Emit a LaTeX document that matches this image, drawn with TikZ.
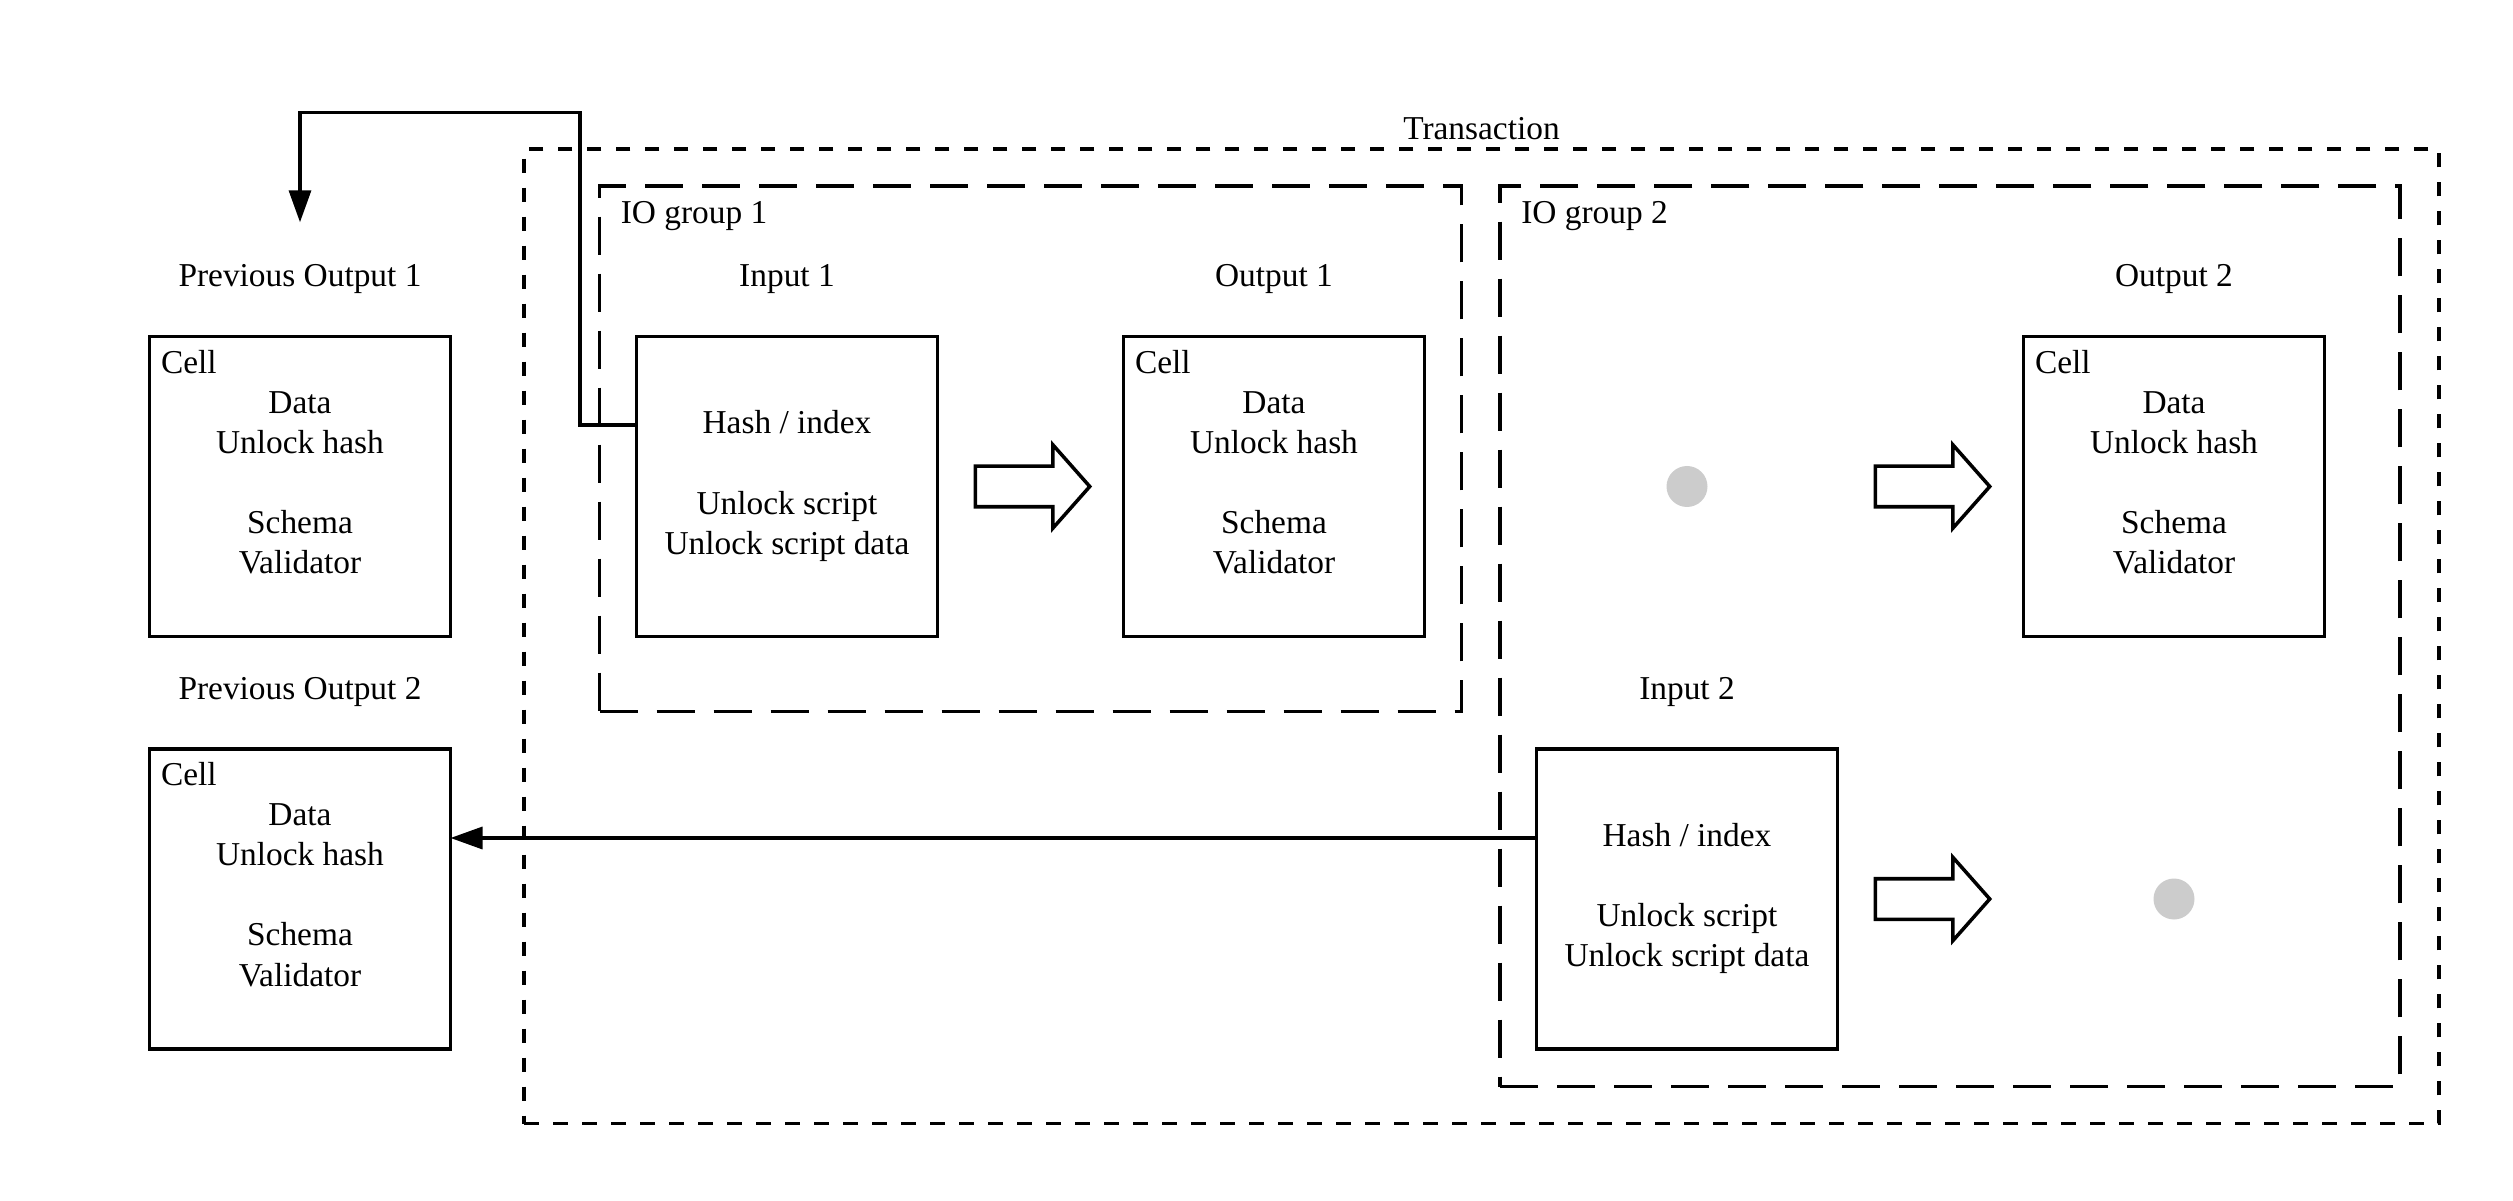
\documentclass[tikz,border=0pt]{standalone}
\usepackage{fontspec}
\setmainfont{Liberation Serif}
\usetikzlibrary{arrows.meta,shapes.arrows,positioning,backgrounds,fit,calc}

\begin{document}
\begin{tikzpicture}[node distance = 4.87cm, font=\fontsize{9.5}{11.4}\selectfont,
    cellbox/.style={rectangle, draw=black, line width=1pt, minimum width=3.01cm, minimum height=3cm, align=center,
                    text depth=2.3pt, outer sep=0pt},
    tag/.style={inner sep=0pt, anchor=base west},
    caption/.style={node distance=2.07cm},
    hollow/.style={single arrow, draw=black, fill=white, line width=1pt, minimum height=1.145cm, minimum width=0.8cm,
                   single arrow head extend=0.215cm, single arrow tip angle=97, inner xsep=0pt, inner ysep=0.185cm,
                   anchor=tail},
    spot/.style={circle, fill=black!20, minimum size=0.41cm, inner sep=0pt},
    link/.style={line width=0.95pt, -{Triangle[length=0.32cm, width=0.22cm]}},
    iogroup/.style={draw=black, line width=1.05pt, dash pattern=on 0.38cm off 0.19cm, inner sep=0pt, outer sep=0pt},
    txbox/.style={draw=black, line width=0.95pt, dash pattern=on 0.145cm off 0.145cm, inner sep=0pt, outer sep=0pt}]
  \useasboundingbox (0,0) rectangle (25.13,12);

  \node[cellbox] at (3, 7.135) (prev1) {Data\\Unlock hash\\[11.4pt]Schema\\Validator};
  \node[cellbox, below of=prev1, node distance=4.125cm] (prev2) {Data\\Unlock hash\\[11.4pt]Schema\\Validator};
  \node[cellbox, right of=prev1] (in1) {Hash / index\\[11.4pt]Unlock script\\Unlock script data};
  \node[cellbox, right of=in1] (out1) {Data\\Unlock hash\\[11.4pt]Schema\\Validator};

  \node[spot] at (16.87, 7.135) (dot1) {};
  \node[cellbox, right of=dot1] (out2) {Data\\Unlock hash\\[11.4pt]Schema\\Validator};
  \node[cellbox, below of=dot1, node distance=4.125cm] (in2) {Hash / index\\[11.4pt]Unlock script\\Unlock script data};
  \node[spot, below of=out2, node distance=4.125cm] (dot2) {};

  % titles above the boxes
  \node[caption, above of=prev1] (prev1label) {Previous Output 1};
  \node[caption, above of=prev2] (prev2label) {Previous Output 2};
  \node[caption, above of=in1] (in1label) {Input 1};
  \node[caption, above of=out1] (out1label) {Output 1};
  \node[caption, above of=out2] (out2label) {Output 2};
  \node[caption, above of=in2] (in2label) {Input 2};

  \node[tag] at ($(prev1.north west)+(0.108,-0.37)$) (prev1cell) {Cell};
  \node[tag] at ($(prev2.north west)+(0.108,-0.37)$) (prev2cell) {Cell};
  \node[tag] at ($(out1.north west)+(0.108,-0.37)$) (out1cell) {Cell};
  \node[tag] at ($(out2.north west)+(0.108,-0.37)$) (out2cell) {Cell};

  \node[hollow] at ($(in1.east)+(0.36,0)$) (push1) {};
  \node[hollow] at ($(in2.east |- dot1)+(0.36,0)$) (push2) {};
  \node[hollow] at ($(in2.east)+(0.36,0)$) (push3) {};

  \begin{pgfonlayer}{background}
    \node[iogroup, fit={($(in1.south west)+(-0.37,-0.75)$) ($(out1.north east)+(0.37,1.505)$)}] (group1) {};
    \node[iogroup, fit={($(in2.south west)+(-0.365,-0.375)$) ($(out2.north east)+(0.755,1.505)$)}] (group2) {};
    \node[txbox, fit={($(group1.north west)+(-0.755,0.37)$) ($(group2.south east)+(0.39,-0.37)$)}] (trans) {};
  \end{pgfonlayer}

  \node[tag] at ($(group1.north west)+(0.206,-0.375)$) (group1label) {IO group 1};
  \node[tag] at ($(group2.north west)+(0.206,-0.375)$) (group2label) {IO group 2};
  \node[inner sep=0pt, anchor=base] at ($(trans.north)+(0,0.095)$) (translabel) {Transaction};

  % references back to the previous outputs
  \coordinate (bend) at (5.80, 10.877);
  \coordinate (tip1) at ($(prev1.north)+(0,1.142)$);
  \draw[link] ($(in1.west)+(0,0.615)$) -| (bend) -| (tip1);
  \draw[link] ($(in2.west)+(0,0.61)$) -- ($(prev2.east)+(0,0.61)$);

\end{tikzpicture}
\end{document}
